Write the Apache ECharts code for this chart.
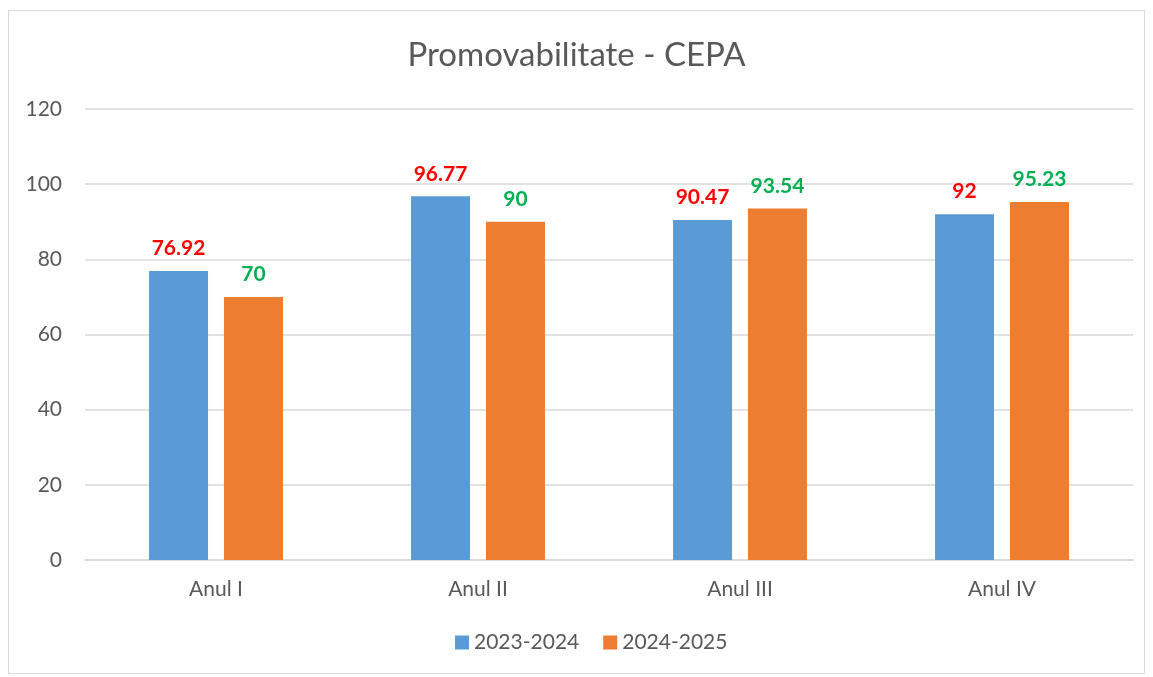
<!DOCTYPE html>
<html>
<head>
<meta charset="utf-8">
<script src="https://cdn.jsdelivr.net/npm/echarts@6/dist/echarts.min.js"></script>
<style>
  html, body { margin: 0; padding: 0; background: #fff; }
  #frame { position: absolute; left: 8px; top: 10px; width: 1137px; height: 664px; border: 1px solid #d9d9d9; box-sizing: border-box; }
  #chart { width: 1153px; height: 677px; }
</style>
</head>
<body>
<div id="frame"></div>
<div id="chart"></div>
<script>
const categories = ['Anul I', 'Anul II', 'Anul III', 'Anul IV'];
const seriesNames = ['2023-2024', '2024-2025'];
const values2324 = [76.92, 96.77, 90.47, 92];
const values2425 = [70, 90, 93.54, 95.23];

const chart = echarts.init(document.getElementById('chart'));
const font = 'Lato, "Open Sans", sans-serif';

let options = {
  animation: false,
  color: ['#5B9BD5', '#ED7D31'],
  textStyle: { fontFamily: font },
  title: {
    text: 'Promovabilitate - CEPA',
    left: 'center',
    top: 34,
    textStyle: { fontSize: 33, fontWeight: 'normal', color: '#595959', fontFamily: font }
  },
  legend: {
    bottom: 19,
    left: 450,
    itemWidth: 14,
    itemHeight: 14,
    itemGap: 24,
    icon: 'rect',
    textStyle: { fontSize: 21, color: '#595959', fontFamily: font },
    data: seriesNames
  },
  grid: { left: 85, right: 20, top: 109, bottom: 117 },
  xAxis: {
    type: 'category',
    data: categories,
    axisLine: { lineStyle: { color: '#d9d9d9', width: 1.5 } },
    axisTick: { show: false },
    axisLabel: { fontSize: 21, color: '#595959', margin: 19, fontFamily: font }
  },
  yAxis: {
    type: 'value',
    min: 0,
    max: 120,
    interval: 20,
    axisLine: { show: false },
    axisTick: { show: false },
    splitLine: { lineStyle: { color: '#d9d9d9', width: 1.5 } },
    axisLabel: { fontSize: 21, color: '#595959', margin: 23, fontFamily: font }
  },
  series: [
    {
      name: seriesNames[0],
      type: 'bar',
      data: values2324,
      barWidth: 59,
      barGap: '27%',
      label: {
        show: true,
        position: 'top',
        distance: 12,
        color: '#FF0000',
        fontSize: 21,
        fontWeight: 'bold',
        fontFamily: font
      }
    },
    {
      name: seriesNames[1],
      type: 'bar',
      data: values2425,
      barWidth: 59,
      label: {
        show: true,
        position: 'top',
        distance: 12,
        color: '#00B050',
        fontSize: 21,
        fontWeight: 'bold',
        fontFamily: font
      }
    }
  ]
};

chart.setOption(options);
</script>
</body>
</html>
